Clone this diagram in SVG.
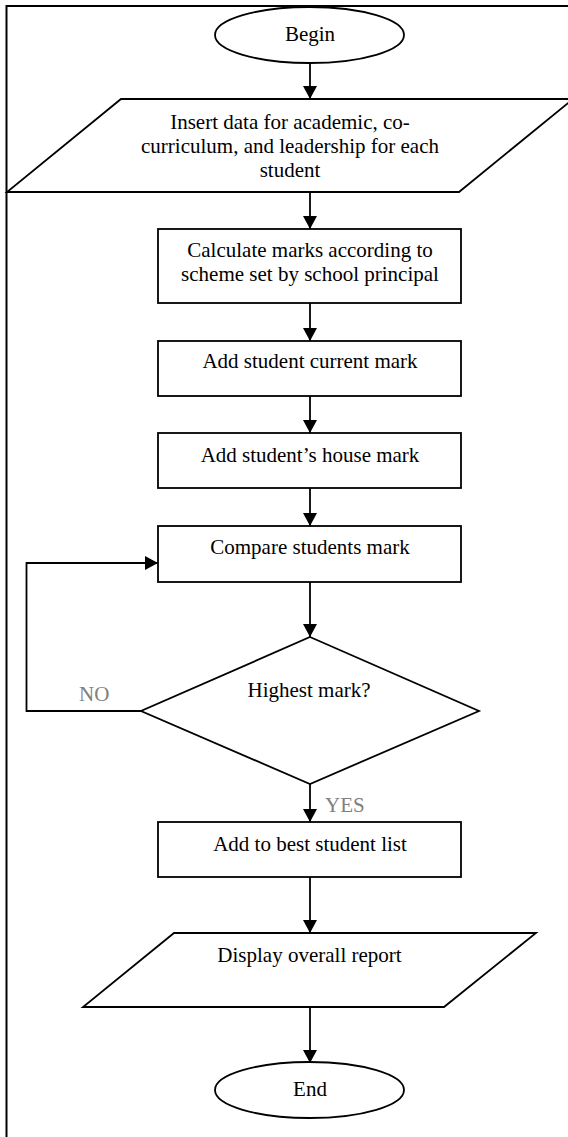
<svg xmlns="http://www.w3.org/2000/svg" width="568" height="1137" viewBox="0 0 568 1137">
<style>
.s{fill:#fff;stroke:#000;stroke-width:1.8}
.t{font-family:"Liberation Serif","Times New Roman",serif;font-size:21px;fill:#000;text-anchor:middle}
.g{font-family:"Liberation Serif","Times New Roman",serif;font-size:21px;fill:#808080}
.c{fill:none;stroke:#000;stroke-width:1.8}
</style>
<defs>
<marker id="ah" markerUnits="userSpaceOnUse" markerWidth="14" markerHeight="14" refX="13" refY="7" orient="auto">
<path d="M0,0 L13,7 L0,14 z" fill="#000"/>
</marker>
</defs>
<rect x="0" y="0" width="568" height="1137" fill="#fff"/>
<path d="M6.5,1137 V6 H568" fill="none" stroke="#000" stroke-width="2"/>
<g id="connectors">
<path class="c" d="M310,63 V99" marker-end="url(#ah)"/>
<path class="c" d="M310,192 V229" marker-end="url(#ah)"/>
<path class="c" d="M310,303 V341" marker-end="url(#ah)"/>
<path class="c" d="M310,396 V433" marker-end="url(#ah)"/>
<path class="c" d="M310,488 V526" marker-end="url(#ah)"/>
<path class="c" d="M310,582 V637" marker-end="url(#ah)"/>
<path class="c" d="M141,711 H26.5 V563 H158" marker-end="url(#ah)"/>
<path class="c" d="M310,784 V822" marker-end="url(#ah)"/>
<path class="c" d="M310,877 V933" marker-end="url(#ah)"/>
<path class="c" d="M310,1007 V1063" marker-end="url(#ah)"/>
<text class="g" x="79" y="701">NO</text>
<text class="g" x="325" y="812">YES</text>
</g>
<g id="begin">
<ellipse class="s" cx="309.5" cy="35" rx="94.5" ry="28"/>
<text class="t" x="310" y="41">Begin</text>
</g>
<g id="insert">
<polygon class="s" points="121,99 573,99 459,192 7,192"/>
<text class="t" x="290" y="129">Insert data for academic, co-</text>
<text class="t" x="290" y="153">curriculum, and leadership for each</text>
<text class="t" x="290" y="177">student</text>
</g>
<g id="calculate">
<rect class="s" x="158" y="229" width="303" height="74"/>
<text class="t" x="310" y="257">Calculate marks according to</text>
<text class="t" x="310" y="281">scheme set by school principal</text>
</g>
<g id="current">
<rect class="s" x="158" y="341" width="303" height="55"/>
<text class="t" x="310" y="368">Add student current mark</text>
</g>
<g id="house">
<rect class="s" x="158" y="433" width="303" height="55"/>
<text class="t" x="310" y="462">Add student’s house mark</text>
</g>
<g id="compare">
<rect class="s" x="158" y="526" width="303" height="56"/>
<text class="t" x="310" y="554">Compare students mark</text>
</g>
<g id="decision">
<polygon class="s" points="310,637 479,711 310,784 141,711"/>
<text class="t" x="309" y="697">Highest mark?</text>
</g>
<g id="best">
<rect class="s" x="158" y="822" width="303" height="55"/>
<text class="t" x="310" y="851">Add to best student list</text>
</g>
<g id="display">
<polygon class="s" points="174,933 536,933 444,1007 83,1007"/>
<text class="t" x="309.5" y="962">Display overall report</text>
</g>
<g id="end">
<ellipse class="s" cx="309.5" cy="1090" rx="94.5" ry="28"/>
<text class="t" x="310" y="1096">End</text>
</g>
</svg>
